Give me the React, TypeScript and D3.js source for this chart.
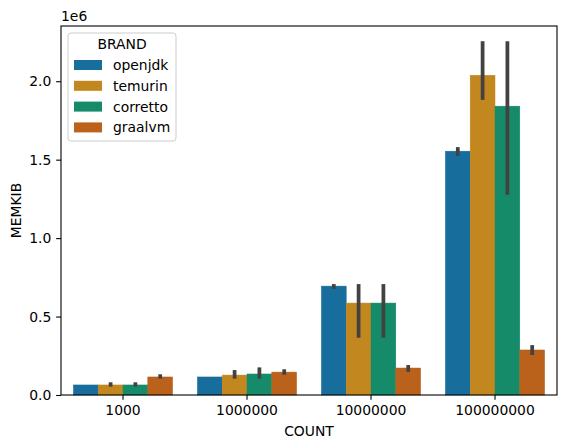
import { useEffect, useRef } from "react";
import * as d3 from "d3";

const counts = ["1000", "1000000", "10000000", "100000000"];
const brands = ["openjdk", "temurin", "corretto", "graalvm"];
const colors = ["#176d9c", "#c38720", "#168b6a", "#ba611b"];

// mean MEMKIB per brand, one value per count
const openjdk = [64000, 115000, 694000, 1554000];
const temurin = [64000, 127000, 586000, 2038000];
const corretto = [64000, 134000, 586000, 1841000];
const graalvm = [115000, 146000, 172000, 287000];

// confidence interval low / high
const openjdkLo = [64000, 115000, 677000, 1524000];
const openjdkHi = [64000, 115000, 707000, 1580000];
const temurinLo = [53000, 104000, 365000, 1881000];
const temurinHi = [81000, 159000, 707000, 2255000];
const correttoLo = [53000, 104000, 365000, 1276000];
const correttoHi = [81000, 176000, 707000, 2255000];
const graalvmLo = [104000, 129000, 148000, 255000];
const graalvmHi = [132000, 164000, 191000, 318000];

const yTicks = [0, 500000, 1000000, 1500000, 2000000];

const App = () => {
  const ref = useRef<SVGSVGElement>(null);

  useEffect(() => {
    document.body.style.margin = "0";
    const width = 567;
    const height = 448;
    const margin = { top: 26, right: 10, bottom: 53, left: 61 };
    const iw = width - margin.left - margin.right;
    const ih = height - margin.top - margin.bottom;
    const font = "DejaVu Sans, sans-serif";

    const means = [openjdk, temurin, corretto, graalvm];
    const los = [openjdkLo, temurinLo, correttoLo, graalvmLo];
    const his = [openjdkHi, temurinHi, correttoHi, graalvmHi];

    const svg = d3.select(ref.current);
    svg.selectAll("*").remove();

    const g = svg
      .append("g")
      .attr("transform", `translate(${margin.left},${margin.top})`);

    const x = d3
      .scaleBand()
      .domain(counts)
      .range([0, iw])
      .paddingInner(0.2)
      .paddingOuter(0.1);
    const xInner = d3.scaleBand().domain(brands).range([0, x.bandwidth()]);
    const y = d3.scaleLinear().domain([0, 2352000]).range([ih, 0]);

    brands.forEach((b, bi) => {
      const rows = counts.map((c, ci) => ({
        c,
        v: means[bi][ci],
        lo: los[bi][ci],
        hi: his[bi][ci],
      }));
      g.selectAll(null)
        .data(rows)
        .enter()
        .append("rect")
        .attr("x", (d) => x(d.c)! + xInner(b)!)
        .attr("y", (d) => y(d.v))
        .attr("width", xInner.bandwidth())
        .attr("height", (d) => ih - y(d.v))
        .attr("fill", colors[bi])
        .attr("stroke", colors[bi])
        .attr("stroke-width", 0.5);
    });

    // error bars drawn over all bars
    brands.forEach((b, bi) => {
      const rows = counts
        .map((c, ci) => ({ c, lo: los[bi][ci], hi: his[bi][ci] }))
        .filter((d) => d.hi > d.lo);
      g.selectAll(null)
        .data(rows)
        .enter()
        .append("line")
        .attr("x1", (d) => x(d.c)! + xInner(b)! + xInner.bandwidth() / 2)
        .attr("x2", (d) => x(d.c)! + xInner(b)! + xInner.bandwidth() / 2)
        .attr("y1", (d) => y(d.lo))
        .attr("y2", (d) => y(d.hi))
        .attr("stroke", "#424242")
        .attr("stroke-width", 3.75);
    });

    // axes
    const xAxis = g
      .append("g")
      .attr("transform", `translate(0,${ih})`)
      .call(d3.axisBottom(x).tickSize(4.86).tickPadding(4.86));
    const yAxis = g.append("g").call(
      d3
        .axisLeft(y)
        .tickValues(yTicks)
        .tickFormat((d) => ((d as number) / 1e6).toFixed(1))
        .tickSize(4.86)
        .tickPadding(4.86)
    );
    [xAxis, yAxis].forEach((a) => {
      a.select(".domain").remove();
      a.selectAll("line").attr("stroke", "#000").attr("stroke-width", 1.1);
      a.selectAll("text")
        .attr("fill", "#000")
        .style("font-family", font)
        .style("font-size", "13.9px");
    });

    g.append("rect")
      .attr("width", iw)
      .attr("height", ih)
      .attr("fill", "none")
      .attr("stroke", "#000")
      .attr("stroke-width", 1.1);

    g.append("text")
      .attr("x", 0)
      .attr("y", -5)
      .attr("font-family", font)
      .attr("font-size", 13.9)
      .text("1e6");

    svg
      .append("text")
      .attr("x", margin.left + iw / 2)
      .attr("y", 436)
      .attr("text-anchor", "middle")
      .attr("font-family", font)
      .attr("font-size", 13.9)
      .text("COUNT");

    svg
      .append("text")
      .attr("transform", `translate(21,${margin.top + ih / 2}) rotate(-90)`)
      .attr("text-anchor", "middle")
      .attr("font-family", font)
      .attr("font-size", 13.9)
      .text("MEMKIB");

    // legend
    const lg = svg.append("g").attr("transform", "translate(68,33)");
    lg.append("rect")
      .attr("width", 108)
      .attr("height", 108)
      .attr("rx", 3)
      .attr("fill", "#fff")
      .attr("fill-opacity", 0.8)
      .attr("stroke", "#cccccc")
      .attr("stroke-width", 1);
    lg.append("text")
      .attr("x", 54)
      .attr("y", 16)
      .attr("text-anchor", "middle")
      .attr("font-family", font)
      .attr("font-size", 13.9)
      .text("BRAND");
    brands.forEach((b, i) => {
      const yy = 32 + i * 20.8;
      lg.append("rect")
        .attr("x", 6)
        .attr("y", yy - 5)
        .attr("width", 28)
        .attr("height", 10)
        .attr("fill", colors[i]);
      lg.append("text")
        .attr("x", 45)
        .attr("y", yy + 5)
        .attr("font-family", font)
        .attr("font-size", 13.9)
        .text(b);
    });
  }, []);

  return <svg ref={ref} width={567} height={448} style={{ display: "block" }} />;
};

export default App;
